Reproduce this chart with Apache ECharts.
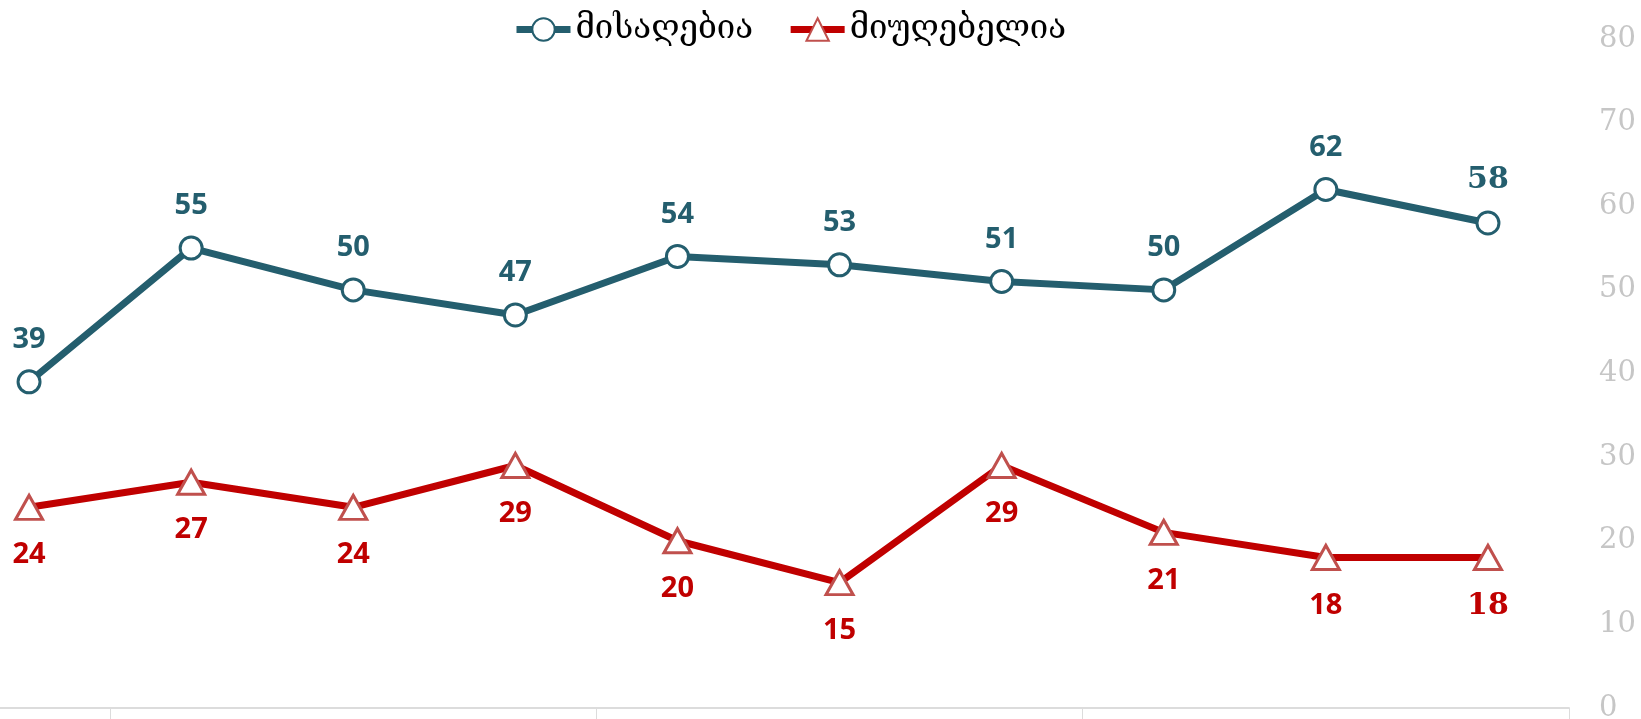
<!DOCTYPE html>
<html>
<head>
<meta charset="utf-8">
<script src="https://cdn.jsdelivr.net/npm/echarts@6/dist/echarts.min.js"></script>
<style>
  html, body { margin: 0; padding: 0; background: #fff; }
  #main { width: 1641px; height: 719px; }
</style>
</head>
<body>
<div id="main"></div>
<script>
// survey waves (no labels shown on the axis)
var waves = ['1', '2', '3', '4', '5', '6', '7', '8', '9', '10'];
var acceptable = [39, 55, 50, 47, 54, 53, 51, 50, 62, 58];
var unacceptable = [24, 27, 24, 29, 20, 15, 29, 21, 18, 18];
var yTicks = [0, 10, 20, 30, 40, 50, 60, 70, 80];

var blue = '#245e6e';
var red = '#c00000';

// the last point gets the bigger serif label
function withLastLabel(values, color) {
  return values.map(function (v, i) {
    if (i !== values.length - 1) return v;
    return {
      value: v,
      label: { fontFamily: 'DejaVu Serif', fontWeight: 'bold', fontSize: 30, color: color }
    };
  });
}

var myChart = echarts.init(document.getElementById('main'));

var option = {
  animation: false,
  legend: {
    left: 508,
    top: 8,
    itemWidth: 54,
    itemHeight: 28,
    itemGap: 34,
    lineStyle: { width: 7 },
    textStyle: { fontFamily: 'DejaVu Serif, DejaVu Sans', fontSize: 33, color: '#000' },
    data: ['მისაღებია', 'მიუღებელია']
  },
  grid: { left: -52, right: 72, top: 39, bottom: 11, outerBoundsMode: 'none' },
  xAxis: {
    type: 'category',
    data: waves,
    boundaryGap: true,
    axisLine: { lineStyle: { color: '#dcdcdc', width: 2 } },
    axisTick: {
      show: true,
      length: 13,
      lineStyle: { color: '#dcdcdc', width: 1 },
      interval: function (idx) { return idx % 3 === 1; }
    },
    axisLabel: { show: false }
  },
  yAxis: {
    type: 'value',
    position: 'right',
    min: yTicks[0],
    max: yTicks[yTicks.length - 1],
    interval: 10,
    splitLine: { show: false },
    axisLine: { show: false },
    axisTick: { show: false },
    axisLabel: { margin: 30, fontFamily: 'DejaVu Serif', fontSize: 29, color: '#c6c6c6' }
  },
  series: [
    {
      name: 'მისაღებია',
      type: 'line',
      data: withLastLabel(acceptable, blue),
      symbol: 'circle',
      symbolSize: 22,
      lineStyle: { color: blue, width: 7 },
      itemStyle: { color: '#fff', borderColor: blue, borderWidth: 3 },
      label: {
        show: true, position: 'top', distance: 15,
        fontFamily: 'Open Sans', fontWeight: 'bold', fontSize: 29, color: blue
      }
    },
    {
      name: 'მიუღებელია',
      type: 'line',
      data: withLastLabel(unacceptable, red),
      symbol: 'triangle',
      symbolSize: [27, 24],
      lineStyle: { color: red, width: 7 },
      itemStyle: { color: '#fff', borderColor: '#c0504d', borderWidth: 3 },
      label: {
        show: true, position: 'bottom', distance: 20,
        fontFamily: 'Open Sans', fontWeight: 'bold', fontSize: 29, color: red
      }
    }
  ]
};

myChart.setOption(option);
</script>
</body>
</html>
